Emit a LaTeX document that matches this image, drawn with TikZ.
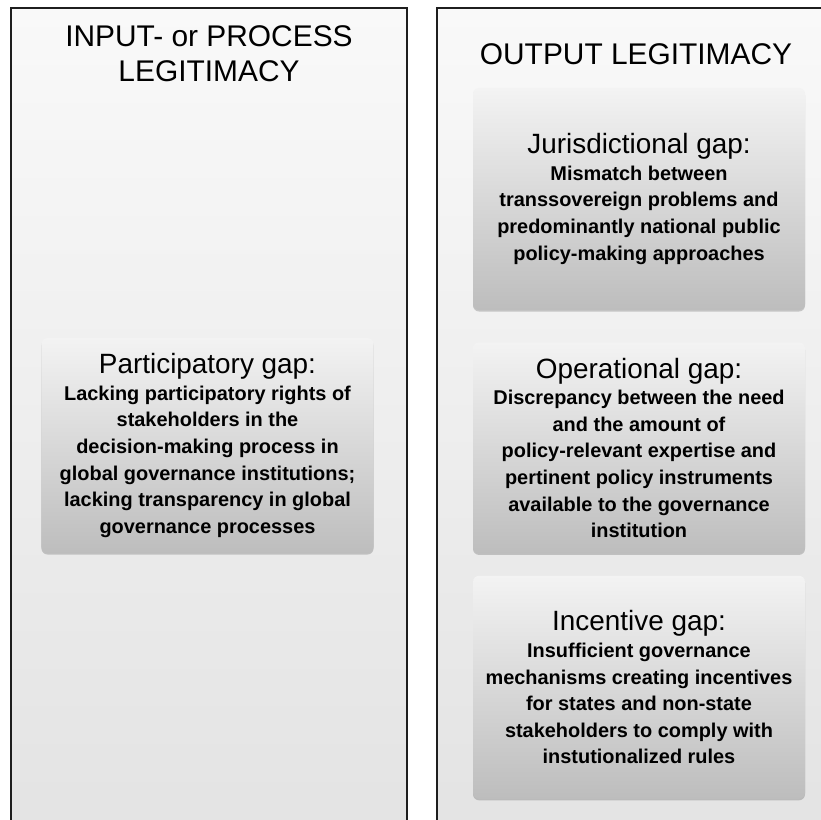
\documentclass[tikz,border=0pt]{standalone}
\usepackage{fontspec}
\setmainfont{Liberation Sans}
\usepackage{xcolor}
\usetikzlibrary{positioning,shadows}
\definecolor{cEdge}{HTML}{1E1E1E}
\definecolor{cPanelTop}{HTML}{F9F9F9}
\definecolor{cPanelBot}{HTML}{E3E3E3}
\definecolor{cBoxTop}{HTML}{F3F3F3}
\definecolor{cBoxBot}{HTML}{BDBDBD}
\tikzset{
  panel/.style={draw=cEdge, line width=2bp, top color=cPanelTop, bottom color=cPanelBot,
                anchor=north west, minimum height=830bp, inner sep=0pt},
  ttl/.style={font=\fontsize{30}{35}\selectfont, align=center, inner sep=0pt},
  gapbox/.style={rounded corners=6bp, top color=cBoxTop, bottom color=cBoxBot,
                 minimum width=332bp, inner sep=0pt, align=center,
                 font=\fontsize{20}{26.7}\selectfont\bfseries,
                 drop shadow={shadow xshift=0bp, shadow yshift=-1.5bp, opacity=.18, fill=black}}
}
\newcommand{\gaphead}[1]{{\fontsize{28}{28}\selectfont\mdseries #1}}

\begin{document}
\begin{tikzpicture}[x=1bp, y=-1bp]
\clip (0,0) rectangle (821,820);
% the two legitimacy columns
\node[panel, minimum width=396bp] (inpanel) at (10,7) {};
\node[panel, minimum width=392bp] (outpanel) at (436,7) {};
\node[ttl] (intitle) at (209,53.5) {INPUT- or PROCESS\\LEGITIMACY};
\node[ttl] (outtitle) at (636,54) {OUTPUT LEGITIMACY};
% input side
\node[gapbox, minimum height=215bp] (partgap) at (207.5,445.5) {\gaphead{Participatory gap:}\\
Lacking participatory rights of\\ stakeholders in the\\ decision-making process in\\
global governance institutions;\\ lacking transparency in global\\ governance processes};
% output side
\node[gapbox, minimum height=222bp] (jurgap) at (639,199) {\gaphead{Jurisdictional gap:}\\
Mismatch between\\ transsovereign problems and\\ predominantly national public\\
policy-making approaches};
\node[gapbox, minimum height=211bp, below=32bp of jurgap] (opgap) {\gaphead{Operational gap:}\\
Discrepancy between the need\\ and the amount of\\ policy-relevant expertise and\\
pertinent policy instruments\\ available to the governance\\ institution};
\node[gapbox, minimum height=223bp, below=22bp of opgap] (incgap) {\gaphead{Incentive gap:}\\
Insufficient governance\\ mechanisms creating incentives\\ for states and non-state\\
stakeholders to comply with\\ instutionalized rules};
\end{tikzpicture}
\end{document}
